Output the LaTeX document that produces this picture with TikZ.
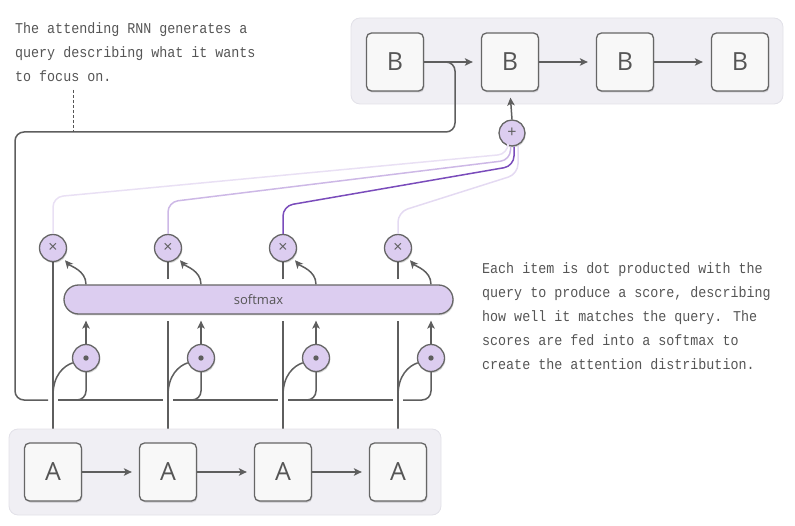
\documentclass[tikz,border=0pt]{standalone}
\usepackage{fontspec}
\setmainfont{Open Sans}
\newfontfamily\monof[FakeStretch=0.89]{Liberation Mono}
\usetikzlibrary{arrows.meta,shadows,calc}
\definecolor{ln}{HTML}{5E5E5E}
\definecolor{bd}{HTML}{666666}
\definecolor{tx}{HTML}{555555}
\definecolor{boxf}{HTML}{F8F8F8}
\definecolor{lav}{HTML}{DCCDF0}
\definecolor{panelf}{HTML}{F0EFF4}
\definecolor{panelb}{HTML}{E2E1E8}
\definecolor{pA}{HTML}{E9E0F4}
\definecolor{pB}{HTML}{CDB8E6}
\definecolor{pC}{HTML}{7A4CBB}
\definecolor{pD}{HTML}{E4DAF2}
\pgfdeclarelayer{lines}
\pgfdeclarelayer{panel}
\pgfsetlayers{lines,panel,main}
\begin{document}
\begin{tikzpicture}[x=1pt,y=-1pt,
  conn/.style={draw=ln, line width=1.5pt},
  arr/.style={conn, -{Stealth[length=8pt,width=7.5pt,inset=2pt]}},
  shad/.style={drop shadow={shadow xshift=0.8pt, shadow yshift=-1.5pt, opacity=0.16, fill=black}},
  box/.style={rectangle, draw=bd, fill=boxf, line width=1.3pt, rounded corners=5pt,
    minimum width=57pt, minimum height=58pt, inner sep=0,
    font=\fontsize{25}{25}\selectfont, text=tx, shad},
  op/.style={circle, draw=bd, fill=lav, line width=1.3pt, minimum size=27pt, inner sep=0,
    font=\fontsize{16}{16}\selectfont, text=ln, shad},
  note/.style={font=\monof\fontsize{15}{24}\selectfont, text=tx, align=left, inner sep=0, anchor=north west},
  purp/.style={line width=1.5pt, rounded corners=10pt}
]
\useasboundingbox (0,0) rectangle (795,526);

% panels
\begin{pgfonlayer}{panel}
\fill[panelf, draw=panelb, line width=0.8pt, rounded corners=9pt] (351,18) rectangle (783,104);
\fill[panelf, draw=panelb, line width=0.8pt, rounded corners=9pt] (9,429) rectangle (441,515);
\end{pgfonlayer}

% texts
\node[note] (t1) at (15,22) {The attending RNN generates a\\query describing what it wants\\to focus on.};
\node[note] (t2) at (482,262) {Each item is dot producted with the\\query to produce a score, describing\\how well it matches the query. The\\scores are fed into a softmax to\\create the attention distribution.};

% B row
\node[box] (B1) at (395,62) {B};
\node[box] (B2) at (510,62) {B};
\node[box] (B3) at (625,62) {B};
\node[box] (B4) at (740,62) {B};
% A row
\node[box] (A1) at (53,472) {A};
\node[box] (A2) at (168,472) {A};
\node[box] (A3) at (283,472) {A};
\node[box] (A4) at (398,472) {A};

% operators
\node[op, minimum size=26pt] (p) at (512,133) {+};
\node[op] (x1) at (53,248) {×};
\node[op] (x2) at (168,248) {×};
\node[op] (x3) at (283,248) {×};
\node[op] (x4) at (398,248) {×};
\node[op] (d1) at (86,358) {};
\node[op] (d2) at (201,358) {};
\node[op] (d3) at (316,358) {};
\node[op] (d4) at (431,358) {};
\foreach \d in {d1,d2,d3,d4}{\fill[ln] (\d.center) circle (2.7pt);}

\node[rectangle, rounded corners=14.5pt, draw=bd, fill=lav, line width=1.3pt,
  minimum width=389pt, minimum height=29pt, inner sep=0, text=tx,
  font=\fontsize{13}{13}\selectfont, shad] (sm) at (258.5,299.5) {softmax};

% A vertical lines
\begin{pgfonlayer}{lines}
\draw[conn] (A1.north) -- (x1.south);
\foreach \a/\x in {A2/x2,A3/x3,A4/x4}{
  \draw[conn, shorten >=6pt] (\a.north) -- (\a.north |- sm.south);
  \draw[conn, shorten <=5pt] (\a.north |- sm.north) -- (\x.south);
}
\end{pgfonlayer}

% B and A chains
\draw[arr, shorten >=8pt] (B1.east) -- (B2.west);
\draw[arr, shorten >=8pt] (B2.east) -- (B3.west);
\draw[arr, shorten >=8pt] (B3.east) -- (B4.west);
\draw[arr, shorten >=7pt] (A1.east) -- (A2.west);
\draw[arr, shorten >=7pt] (A2.east) -- (A3.west);
\draw[arr, shorten >=7pt] (A3.east) -- (A4.west);
\draw[arr, shorten >=6pt] (p.north) -- (B2.south);

% query line
\coordinate (q1) at (455,62);
\coordinate (q2) at (455,132);
\coordinate (q3) at (15,132);
\coordinate (q4) at (15,400);
\coordinate (qy) at (0,400);
\draw[conn, rounded corners=9pt] (B1.east) -- (q1) -- (q2) -- (q3) -- (q4) -- (48,400);
\draw[conn] (58,400) -- (163,400);
\draw[conn] (173,400) -- (278,400);
\draw[conn] (288,400) -- (393,400);
\foreach \d/\s in {d1/70,d2/185,d3/300,d4/403}{
  \draw[conn, rounded corners=9pt] (\d.south) -- (\d.south |- qy) -- (\s,400);
}
% dashed pointer
\coordinate (tp) at (73,90);
\coordinate (tq) at (73,132);
\draw[draw=tx, line width=0.6pt, dash pattern=on 3pt off 2pt] (tp) -- (tq);

% A -> dot curves
\foreach \a/\d in {A1/d1,A2/d2,A3/d3,A4/d4}{
  \draw[conn] ($(\a.north)+(0,-47)$) .. controls +(0,-20) and +(-9,3) .. (\d.200);
}
% dot -> softmax
\foreach \d in {d1,d2,d3,d4}{
  \draw[arr, shorten >=6pt] (\d.north) -- (\d.north |- sm.south);
}
% softmax -> x
\foreach \d/\x in {d1/x1,d2/x2,d3/x3,d4/x4}{
  \draw[arr, shorten >=3pt] (\d.north |- sm.north) .. controls +(0,-14) and +(7,8) .. (\x.-45);
}

% purple lines into +
\draw[pA, purp] (x1.north) -- (53,197) -- (508,154) -- ($(p.south)+(-4,0)$);
\draw[pB, purp] (x2.north) -- (168,202) -- (510.5,160) -- ($(p.south)+(-1.5,0)$);
\draw[pD, purp] (x4.north) -- (398,212) -- (518,174) -- ($(p.south)+(6,-1)$);
\draw[pC, purp] (x3.north) -- (283,206) -- (514,166) -- ($(p.south)+(2,0)$);
\end{tikzpicture}
\end{document}
